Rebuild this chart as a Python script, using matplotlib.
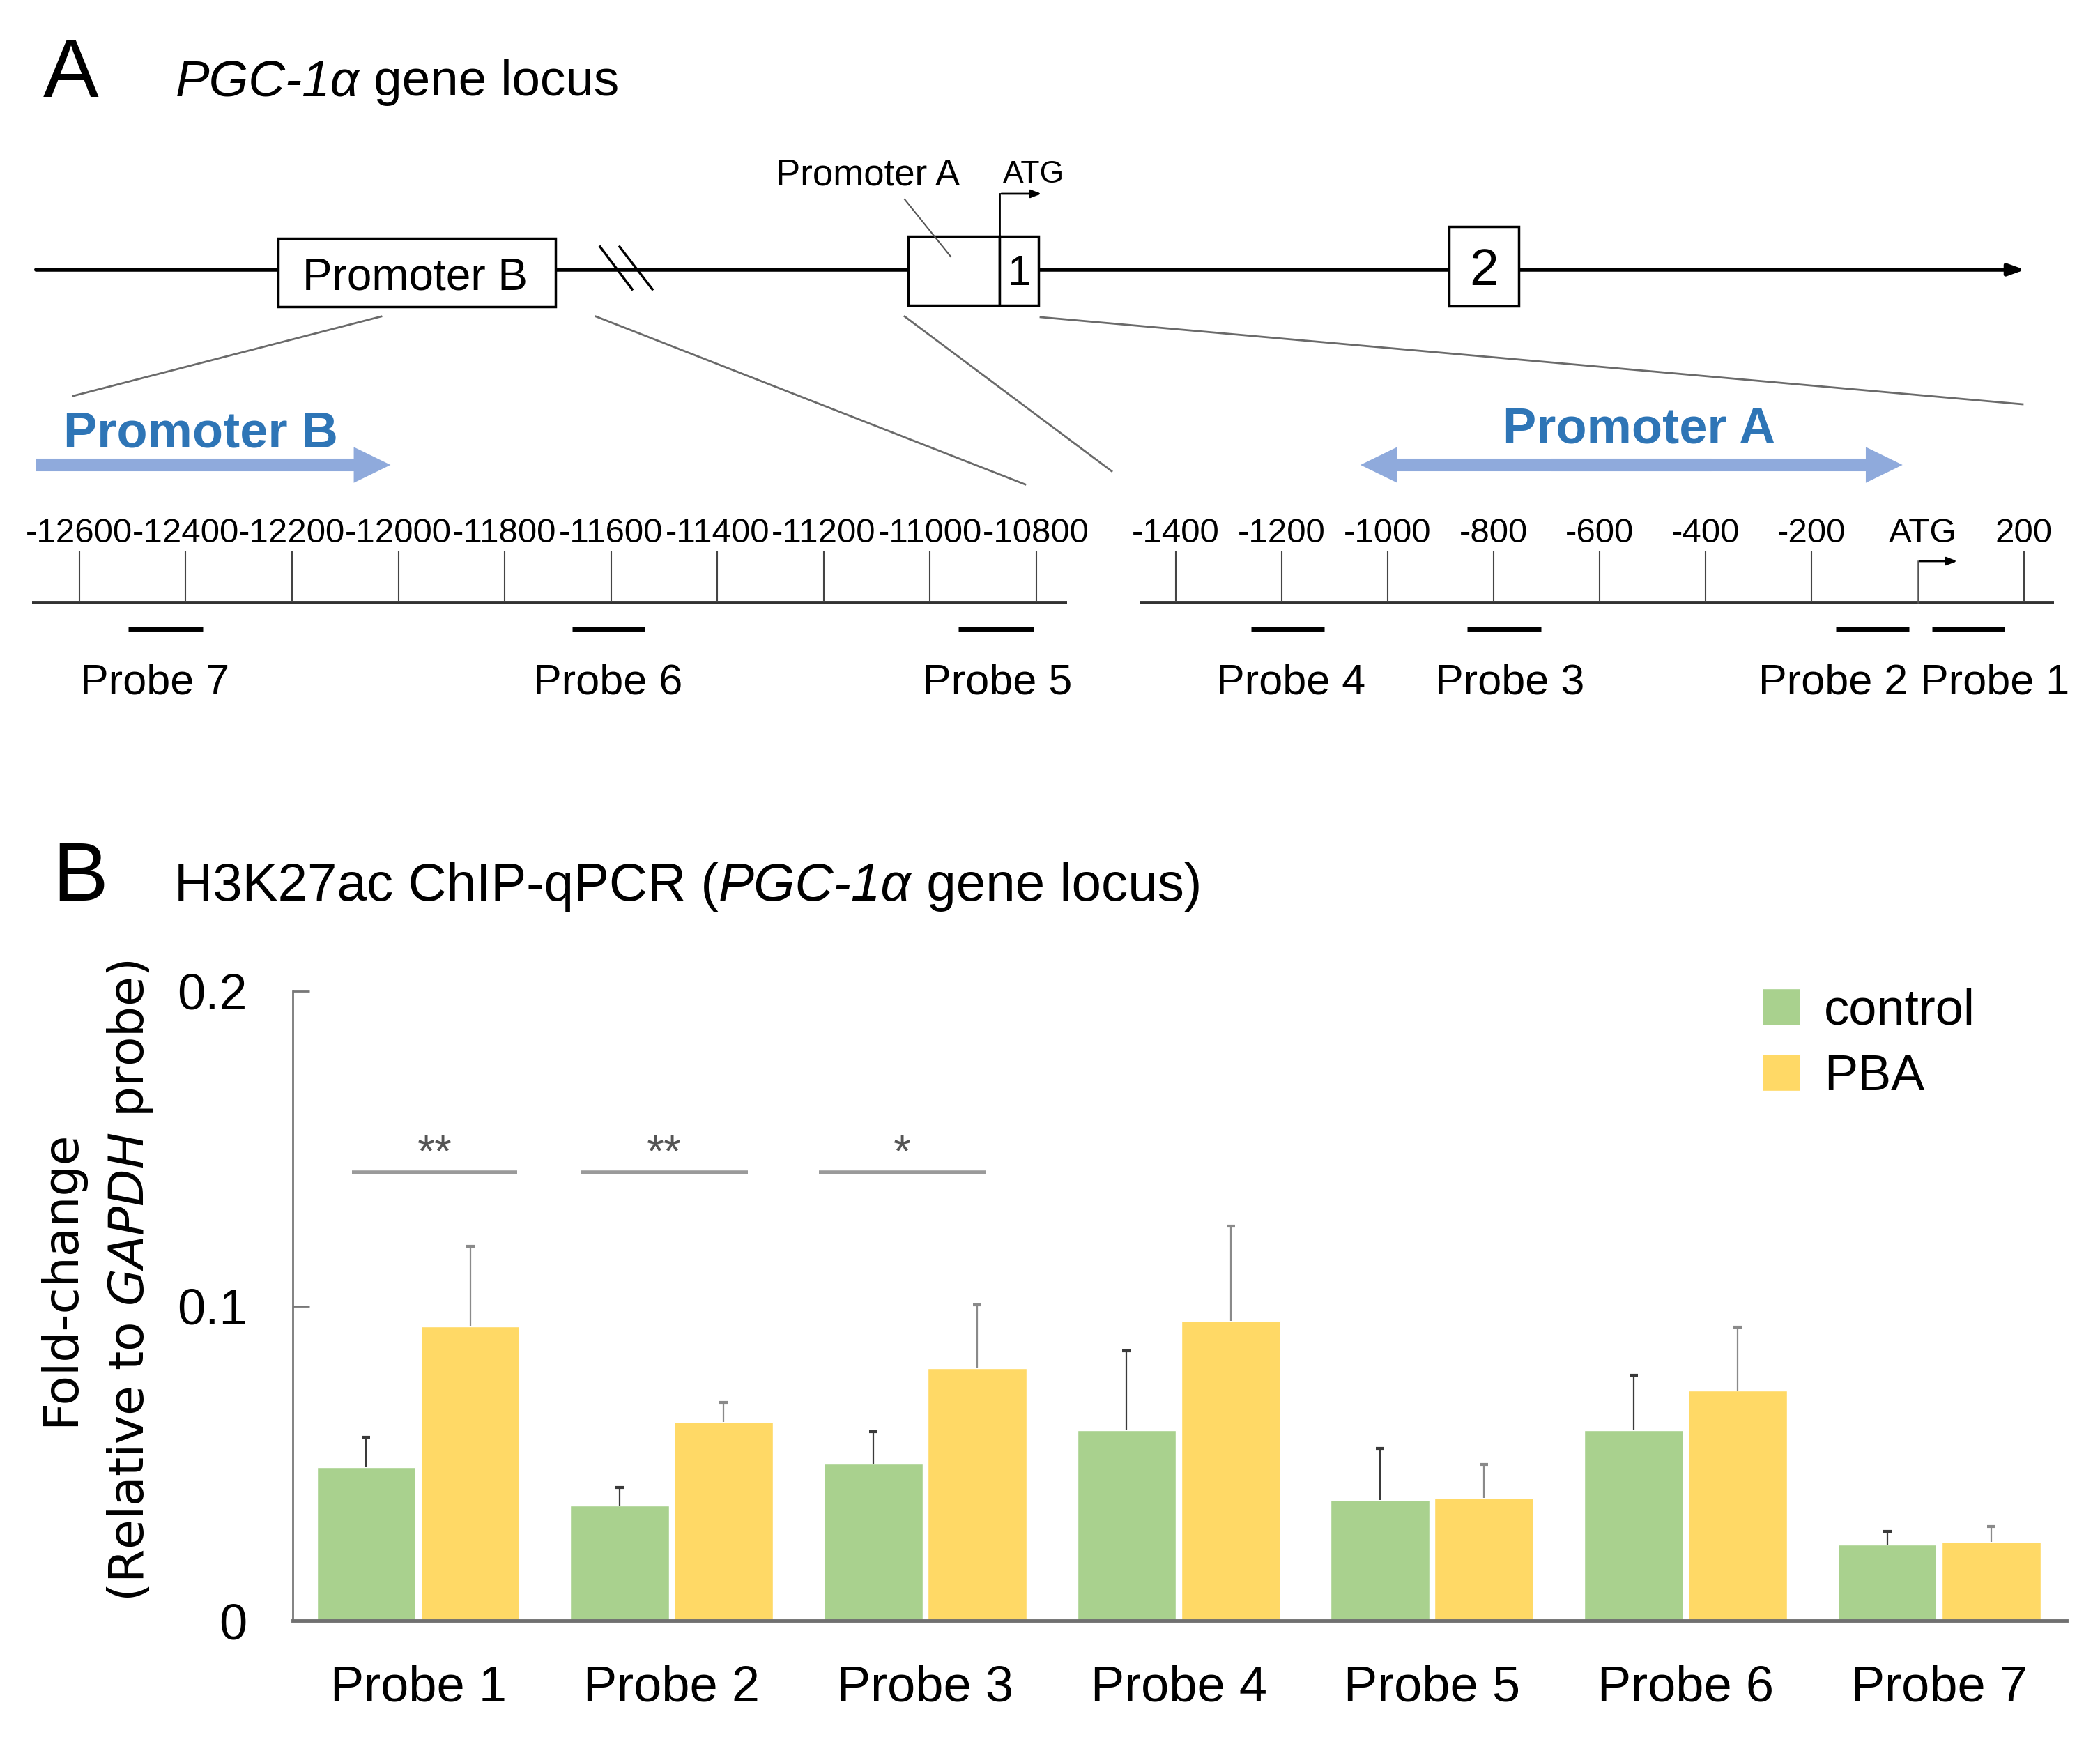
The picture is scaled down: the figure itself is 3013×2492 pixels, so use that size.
import matplotlib
matplotlib.use('Agg')
import matplotlib.pyplot as plt
from matplotlib.patches import Rectangle, FancyArrowPatch
import numpy as np

plt.rcParams['font.family'] = ['Liberation Sans', 'DejaVu Sans']

# ---------------- data: panel B (bar chart) ----------------
probe_labels = ['Probe 1', 'Probe 2', 'Probe 3', 'Probe 4', 'Probe 5', 'Probe 6', 'Probe 7']
series_names = ['control', 'PBA']
control_vals = [0.0488, 0.0365, 0.0498, 0.0605, 0.0383, 0.0605, 0.0242]
control_err = [0.0095, 0.0058, 0.0102, 0.0252, 0.0164, 0.0175, 0.0041]
pba_vals = [0.0935, 0.0632, 0.0802, 0.0952, 0.0390, 0.0730, 0.0250]
pba_err = [0.0255, 0.0061, 0.0202, 0.0302, 0.0106, 0.0202, 0.0050]
y_ticks = [0, 0.1, 0.2]
y_tick_labels = ['0', '0.1', '0.2']
sig_probe_index = [0, 1, 2]
sig_marks = ['**', '**', '*']
sig_level = 0.1424
sig_span_lo = [-0.26, -0.36, -0.42]
sig_span_hi = [0.39, 0.30, 0.24]

# ---------------- data: panel A (gene locus rulers) ----------------
promB_ticks = [-12600, -12400, -12200, -12000, -11800, -11600, -11400, -11200, -11000, -10800]
promA_ticks = [-1400, -1200, -1000, -800, -600, -400, -200, 200]
atg_pos = 0
promB_probe_names = ['Probe 7', 'Probe 6', 'Probe 5']
promB_probe_start = [-12508, -11673, -10946]
promB_probe_end = [-12368, -11536, -10805]
promA_probe_names = ['Probe 4', 'Probe 3', 'Probe 2', 'Probe 1']
promA_probe_start = [-1257, -850, -155, 27]
promA_probe_end = [-1120, -711, -16, 163]
promB_region = [-12685, -12011]
promA_region = [-1055, -25]

# ---------------- layout ----------------
W, H = 3013, 2492
fig = plt.figure(figsize=(W / 100, H / 100), dpi=100)

BLUE_TXT = '#2E75B6'
BLUE_ARR = '#8FAADC'
GREEN = '#A9D18E'
YELLOW = '#FFD966'

# overlay axes in pixel units for the schematic
ov = fig.add_axes([0, 0, 1, 1])
ov.set_xlim(0, W)
ov.set_ylim(H, 0)
ov.axis('off')

# Panel A heading
ov.text(62, 139, 'A', fontsize=86, va='baseline', ha='left')
tA = ov.text(252, 137, 'PGC-1α', fontsize=52.5, style='italic', va='baseline', ha='left')
ov.annotate(' gene locus', xy=(1, 0), xycoords=tA, va='bottom', ha='left', fontsize=52.5)

# gene line with arrow
ov.add_patch(FancyArrowPatch((49, 387), (2908, 387),
                             arrowstyle='-|>,head_length=14,head_width=5',
                             mutation_scale=1, lw=4, color='black', zorder=1))
# boxes
for (x0, y0, x1, y1) in [(399, 342, 797, 440), (1303, 339, 1434, 438),
                         (1434, 339, 1490, 438), (2079, 325, 2179, 439)]:
    ov.add_patch(Rectangle((x0, y0), x1 - x0, y1 - y0, facecolor='white',
                           edgecolor='black', lw=2.5, zorder=2))
ov.text(596, 415, 'Promoter B', ha='center', va='baseline', fontsize=46, zorder=3)
ov.text(1462, 409, '1', ha='center', va='baseline', fontsize=44, zorder=3)
ov.text(2129, 409, '2', ha='center', va='baseline', fontsize=54, zorder=3)
# break marks
ov.plot([861, 907], [354, 415], color='black', lw=2.5, zorder=3)
ov.plot([889, 936], [354, 415], color='black', lw=2.5, zorder=3)
# promoter A label and pointer
ov.text(1245, 266, 'Promoter A', ha='center', va='baseline', fontsize=38)
ov.plot([1298, 1364], [286, 368], color='#555555', lw=1.5, zorder=3)
# ATG label and arrow
ov.text(1483, 262, 'ATG', ha='center', va='baseline', fontsize=32)
ov.plot([1434, 1434], [339, 278], color='black', lw=2, zorder=3)
ov.add_patch(FancyArrowPatch((1434, 278), (1497, 278),
                             arrowstyle='-|>,head_length=9,head_width=3.5',
                             mutation_scale=1, lw=2, color='black', zorder=3))
# zoom lines
for (xa, ya, xb, yb) in [(547, 454, 105, 568), (855, 454, 1471, 695),
                         (1298, 454, 1595, 676), (1493, 455, 2902, 580)]:
    ov.plot([xa, xb], [ya, yb], color='#6a6a6a', lw=2)


def ay(y):
    return (1000 - y) / 440.0


def draw_ruler(rect, xlim, ticks, probe_names, p_start, p_end, label_pos):
    ax = fig.add_axes(rect)
    ax.set_xlim(*xlim)
    ax.set_ylim(0, 1)
    ax.axis('off')
    ax.axhline(ay(864), color='#333333', lw=3.5)
    ax.vlines(ticks, ay(864), ay(791), color='#444444', lw=1.5)
    for t in ticks:
        ax.text(t, ay(778), str(t), ha='center', va='baseline', fontsize=35.5)
    ax.hlines([ay(902)] * len(p_start), p_start, p_end, color='black', lw=5)
    for name, pos in zip(probe_names, label_pos):
        ax.text(pos, ay(995), name, ha='center', va='baseline', fontsize=44)
    return ax


axL = draw_ruler([46 / W, 1 - 1000 / H, 1485 / W, 440 / H], (-12689, -10742), promB_ticks,
                 promB_probe_names, promB_probe_start, promB_probe_end,
                 [-12458, -11606, -10873])
axR = draw_ruler([1635 / W, 1 - 1000 / H, 1312 / W, 440 / H], (-1468, 257), promA_ticks,
                 promA_probe_names, promA_probe_start, promA_probe_end,
                 [-1183, -769, -159, 145])

arrow_style = 'simple,head_length=38,head_width=37,tail_width=13'
axL.add_patch(FancyArrowPatch((promB_region[0], ay(667)), (promB_region[1], ay(667)),
                              arrowstyle=arrow_style, mutation_scale=1, lw=0,
                              color=BLUE_ARR, clip_on=False))
axL.text(-12372, ay(641), 'Promoter B', color=BLUE_TXT, fontweight='bold', fontsize=52,
         ha='center', va='baseline')
midA = (promA_region[0] + promA_region[1]) / 2
halfA = (promA_region[1] - promA_region[0]) / 2
for end, start in [(promA_region[0], midA + 0.3 * halfA), (promA_region[1], midA - 0.3 * halfA)]:
    axR.add_patch(FancyArrowPatch((start, ay(667)), (end, ay(667)),
                                  arrowstyle=arrow_style, mutation_scale=1, lw=0,
                                  color=BLUE_ARR, clip_on=False))
axR.text(-526, ay(635), 'Promoter A', color=BLUE_TXT, fontweight='bold', fontsize=52,
         ha='center', va='baseline')
# ATG on right ruler
axR.text(atg_pos + 10, ay(778), 'ATG', ha='center', va='baseline', fontsize=35.5)
axR.plot([atg_pos, atg_pos], [ay(864), ay(805)], color='#555555', lw=1.8)
axR.add_patch(FancyArrowPatch((atg_pos, ay(805)), (atg_pos + 78, ay(805)),
                              arrowstyle='-|>,head_length=9,head_width=3.5',
                              mutation_scale=1, lw=2, color='black', clip_on=False))

# ---------------- Panel B ----------------
ov.text(75, 1292, 'B', fontsize=86, va='baseline', ha='left')
tB1 = ov.text(250, 1292, 'H3K27ac ChIP-qPCR (', fontsize=55, va='baseline', ha='left')
tB2 = ov.annotate('PGC-1α', xy=(1, 0), xycoords=tB1, style='italic', fontsize=55,
                  va='bottom', ha='left')
ov.annotate(' gene locus)', xy=(1, 0), xycoords=tB2, fontsize=55, va='bottom', ha='left')

ov.text(87, 1834, 'Fold-change', rotation=90, ha='center', va='center', fontsize=50,
        family='DejaVu Sans')
ov.text(187, 1838, r'(Relative to $\mathit{GAPDH}$ probe)', rotation=90, ha='center',
        va='center', fontsize=50, family='DejaVu Sans')

axb = fig.add_axes([420 / W, 1 - 2325 / H, 2545 / W, 903 / H])
x = np.arange(len(probe_labels))
off, bw = 0.205, 0.39
axb.bar(x - off, control_vals, bw, color=GREEN, edgecolor='white', lw=1,
        label=series_names[0], zorder=2)
axb.bar(x + off, pba_vals, bw, color=YELLOW, edgecolor='white', lw=1,
        label=series_names[1], zorder=2)
ctop = np.add(control_vals, control_err)
ptop = np.add(pba_vals, pba_err)
axb.vlines(x - off, control_vals, ctop, color='#3a3a3a', lw=1.6, zorder=3)
axb.plot(x - off, ctop, ls='none', marker='_', ms=9, mew=3, color='#3a3a3a', zorder=3)
axb.vlines(x + off, pba_vals, ptop, color='#8a8a8a', lw=1.6, zorder=3)
axb.plot(x + off, ptop, ls='none', marker='_', ms=9, mew=3, color='#8a8a8a', zorder=3)

for i, m, lo, hi in zip(sig_probe_index, sig_marks, sig_span_lo, sig_span_hi):
    axb.hlines(sig_level, i + lo, i + hi, color='#9a9a9a', lw=4, zorder=3)
    axb.text(i + (lo + hi) / 2, sig_level + 0.002, m, ha='center', va='baseline',
             fontsize=46, color='#555555')

axb.set_xlim(-0.495, 6.503)
axb.set_ylim(0, 0.2)
axb.set_yticks(y_ticks)
axb.set_yticklabels(y_tick_labels, fontsize=52)
axb.tick_params(axis='y', direction='in', length=17, width=2, color='#777777', pad=47)
axb.set_xticks(x)
axb.set_xticklabels(probe_labels, fontsize=52)
axb.tick_params(axis='x', length=0, pad=46)
for s in ['top', 'right']:
    axb.spines[s].set_visible(False)
axb.spines['left'].set_color('#777777')
axb.spines['left'].set_linewidth(2)
axb.spines['bottom'].set_color('#707070')
axb.spines['bottom'].set_linewidth(3.5)
axb.spines['bottom'].set_zorder(4)

axb.legend(loc='upper left', bbox_to_anchor=(2528 / W, 1 - 1418 / H),
           bbox_transform=fig.transFigure, frameon=False, fontsize=52,
           handlelength=0.76, handleheight=0.75, handletextpad=0.47,
           labelspacing=0.37, borderpad=0, borderaxespad=0)

fig.savefig('out.png', dpi=100)
